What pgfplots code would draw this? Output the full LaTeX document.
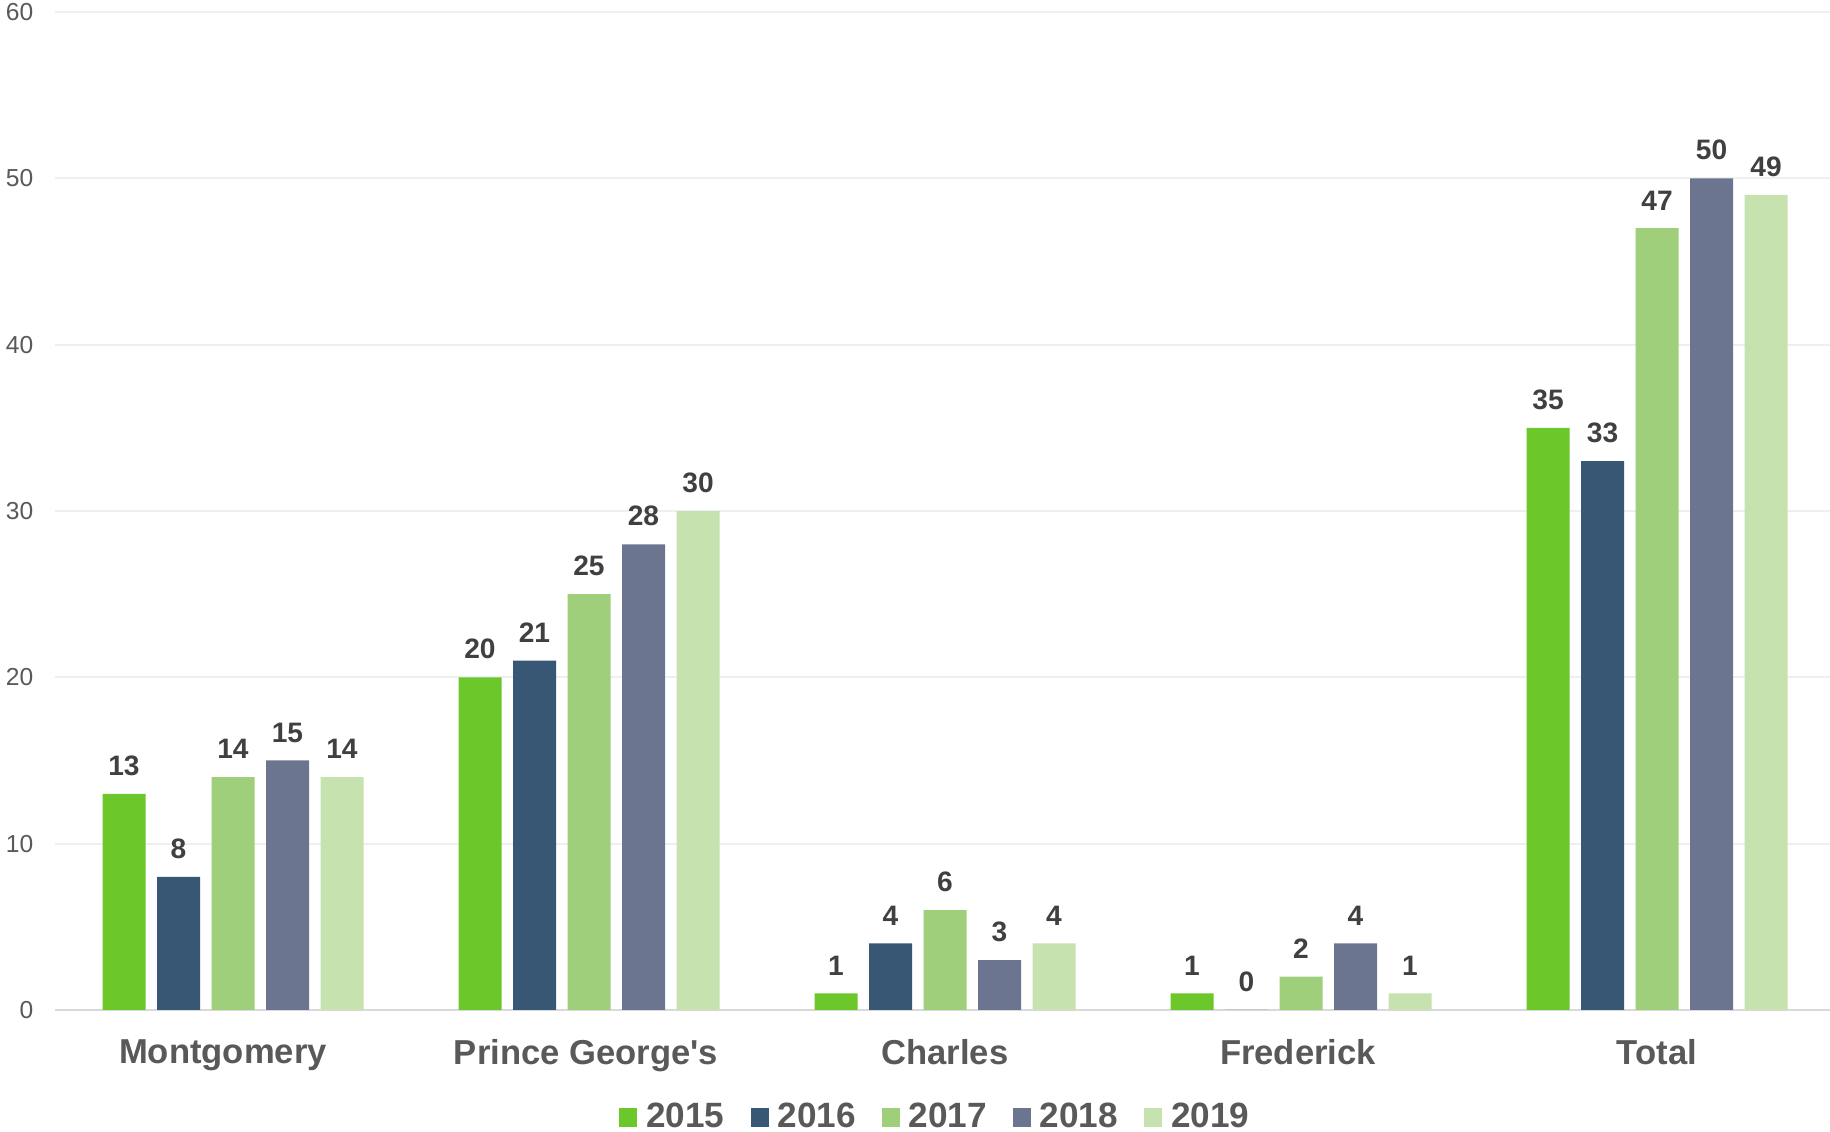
\documentclass[border=0pt]{standalone}
\usepackage{fontspec}
\setmainfont{Liberation Sans}[Ligatures=TeXOff]
\usepackage{pgfplots}
\pgfplotsset{compat=1.18}
\definecolor{cA}{HTML}{6CC72B}
\definecolor{cB}{HTML}{375775}
\definecolor{cC}{HTML}{9FCF7A}
\definecolor{cD}{HTML}{6B7590}
\definecolor{cE}{HTML}{C6E2AE}
\definecolor{gridc}{HTML}{EFEFEF}
\definecolor{zeroc}{HTML}{D9D9D9}
\definecolor{tickc}{HTML}{595959}
\definecolor{valc}{HTML}{404040}
\pgfplotsset{sq/.style={legend image code/.code={\fill[##1,draw=none] (0cm,-0.095cm) rectangle (0.18cm,0.095cm);}}}
\begin{document}
\begin{tikzpicture}
\begin{axis}[
  scale only axis, width=17.8cm, height=9.98cm,
  xmin=-0.5, xmax=4.5, ymin=0, ymax=60,
  /pgf/number format/assume math mode=true,
  axis x line*=bottom, axis y line*=left,
  x axis line style={draw=zeroc, line width=0.6pt},
  y axis line style={draw=none},
  ytick={0,10,...,60},
  xtick={0,1,2,3,4},
  xticklabels={Montgomery\hspace*{0.2cm},Prince George's\hspace*{0.06cm},Charles,Frederick\hspace*{0.06cm},Total},
  major tick length=0pt,
  ymajorgrids, grid style={draw=gridc, line width=0.6pt},
  yticklabel style={font=\fontsize{7}{8}\selectfont, text=tickc, anchor=east, inner sep=0pt, xshift=-0.21cm},
  xticklabel style={font=\bfseries\fontsize{9.85}{11}\selectfont, text=tickc, anchor=north, inner sep=0pt, yshift=-0.29cm},
  ybar, bar width=0.43cm,
  nodes near coords,
  every node near coord/.append style={font=\bfseries\fontsize{8}{9}\selectfont, text=valc, anchor=south, inner sep=0pt, yshift=0.175cm},
  legend columns=5,
  legend style={draw=none, fill=none, at={(axis description cs:0.494,0)}, anchor=center, yshift=-1.08cm,
    font=\bfseries\fontsize{10}{12}\selectfont, text=tickc,
    /tikz/every odd column/.append style={column sep=0.09cm},
    /tikz/every even column/.append style={column sep=0.26cm},
    nodes={inner sep=0pt}},
]
\addplot[fill=cA, draw=none, bar shift=-1.09cm, sq] coordinates {(0,13) (1,20) (2,1) (3,1) (4,35)};
\addplot[fill=cB, draw=none, bar shift=-0.545cm, sq] coordinates {(0,8) (1,21) (2,4) (3,0) (4,33)};
\addplot[fill=cC, draw=none, bar shift=0cm, sq] coordinates {(0,14) (1,25) (2,6) (3,2) (4,47)};
\addplot[fill=cD, draw=none, bar shift=0.545cm, sq] coordinates {(0,15) (1,28) (2,3) (3,4) (4,50)};
\addplot[fill=cE, draw=none, bar shift=1.09cm, sq] coordinates {(0,14) (1,30) (2,4) (3,1) (4,49)};
\legend{2015,2016,2017,2018,2019}
\end{axis}
\pgfresetboundingbox
\path[use as bounding box] (-0.55cm,-1.22cm) rectangle (17.75cm,10.10cm);
\end{tikzpicture}
\end{document}
